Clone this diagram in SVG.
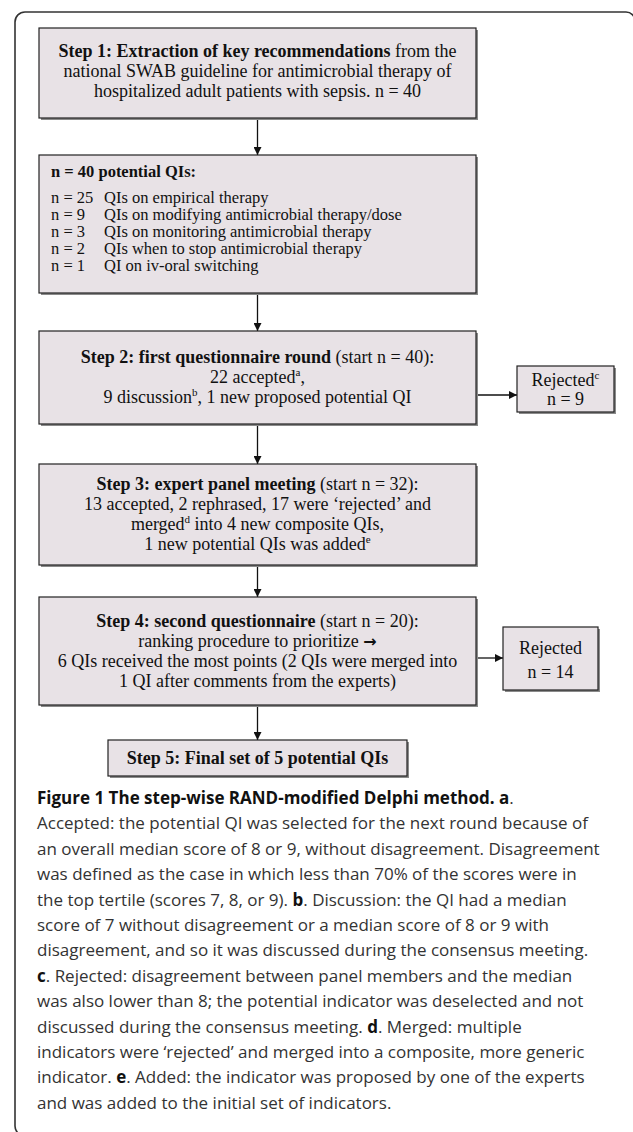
<svg xmlns="http://www.w3.org/2000/svg" width="633" height="1132" viewBox="0 0 633 1132">
<defs>
<marker id="ah" viewBox="0 0 10 10" refX="10" refY="5" markerWidth="8" markerHeight="8" orient="auto" markerUnits="userSpaceOnUse"><path d="M0,0 L10,5 L0,10 z" fill="#111"/></marker>
</defs>
<style>
.box{fill:#e8e2e6;stroke:#222;stroke-width:1.2}
.sh{fill:#8a8a8a}
.t{font-family:"Liberation Serif","Times New Roman",serif;font-size:18px;fill:#111}
.c{text-anchor:middle}
.l2{font-family:"Liberation Serif","Times New Roman",serif;font-size:16.5px;fill:#111}
.b{font-weight:bold}
.sup{font-size:11px}
.arr{font-family:"DejaVu Sans",sans-serif;font-weight:bold;font-size:16px}
.cap{font-family:"Open Sans","Noto Sans",sans-serif;font-size:17px;fill:#333}
.capb{font-weight:bold;fill:#111}
.con{stroke:#111;stroke-width:1.3;fill:none;marker-end:url(#ah)}
</style>
<rect width="633" height="1132" fill="#fff"/>
<path d="M25,1136 A10,10 0 0 1 15,1126 V22 A10,10 0 0 1 25,12 H626 A9,9 0 0 1 635,21" fill="none" stroke="#333" stroke-width="1.6"/>

<g id="connectors">
<line class="con" x1="257.5" y1="118" x2="257.5" y2="155"/>
<line class="con" x1="257.5" y1="293" x2="257.5" y2="331"/>
<line class="con" x1="257.5" y1="424" x2="257.5" y2="464"/>
<line class="con" x1="257.5" y1="565" x2="257.5" y2="597"/>
<line class="con" x1="257.5" y1="705" x2="257.5" y2="740"/>
<line class="con" x1="476" y1="395" x2="517" y2="395"/>
<line class="con" x1="476" y1="658" x2="503" y2="658"/>
</g>

<g id="step1">
<rect class="sh" x="41" y="30" width="437" height="90"/>
<rect class="box" x="39" y="28" width="437" height="90"/>
<text class="t c" x="257.5" y="57"><tspan class="b">Step 1: Extraction of key recommendations</tspan> from the</text>
<text class="t c" x="257.5" y="77">national SWAB guideline for antimicrobial therapy of</text>
<text class="t c" x="257.5" y="97">hospitalized adult patients with sepsis. n = 40</text>
</g>

<g id="potential">
<rect class="sh" x="41" y="157" width="437" height="138"/>
<rect class="box" x="39" y="155" width="437" height="138"/>
<text class="l2 b" x="51" y="177">n = 40 potential QIs:</text>
<text class="l2" x="51" y="203">n = 25</text><text class="l2" x="104" y="203">QIs on empirical therapy</text>
<text class="l2" x="51" y="220">n = 9</text><text class="l2" x="104" y="220">QIs on modifying antimicrobial therapy/dose</text>
<text class="l2" x="51" y="237">n = 3</text><text class="l2" x="104" y="237">QIs on monitoring antimicrobial therapy</text>
<text class="l2" x="51" y="254">n = 2</text><text class="l2" x="104" y="254">QIs when to stop antimicrobial therapy</text>
<text class="l2" x="51" y="271">n = 1</text><text class="l2" x="104" y="271">QI on iv-oral switching</text>
</g>

<g id="step2">
<rect class="sh" x="41" y="333" width="437" height="93"/>
<rect class="box" x="39" y="331" width="437" height="93"/>
<text class="t c" x="257.5" y="363"><tspan class="b">Step 2: first questionnaire round</tspan> (start n = 40):</text>
<text class="t c" x="257.5" y="383">22 accepted<tspan class="sup" dy="-7">a</tspan><tspan dy="7">,</tspan></text>
<text class="t c" x="257.5" y="403">9 discussion<tspan class="sup" dy="-7">b</tspan><tspan dy="7">, 1 new proposed potential QI</tspan></text>
</g>

<g id="rejected1">
<rect class="sh" x="519" y="368" width="97" height="46"/>
<rect class="box" x="517" y="366" width="97" height="46"/>
<text class="t c" x="565.5" y="386">Rejected<tspan class="sup" dy="-7">c</tspan></text>
<text class="t c" x="565.5" y="405">n = 9</text>
</g>

<g id="step3">
<rect class="sh" x="41" y="466" width="437" height="101"/>
<rect class="box" x="39" y="464" width="437" height="101"/>
<text class="t c" x="257.5" y="490"><tspan class="b">Step 3: expert panel meeting</tspan> (start n = 32):</text>
<text class="t c" x="257.5" y="510">13 accepted, 2 rephrased, 17 were ‘rejected’ and</text>
<text class="t c" x="257.5" y="530">merged<tspan class="sup" dy="-7">d</tspan><tspan dy="7">  into 4 new composite QIs,</tspan></text>
<text class="t c" x="257.5" y="550">1 new potential QIs was added<tspan class="sup" dy="-7">e</tspan></text>
</g>

<g id="step4">
<rect class="sh" x="41" y="599" width="437" height="108"/>
<rect class="box" x="39" y="597" width="437" height="108"/>
<text class="t c" x="257.5" y="627"><tspan class="b">Step 4: second questionnaire</tspan> (start n = 20):</text>
<text class="t c" x="257.5" y="647">ranking procedure to prioritize <tspan class="arr">→</tspan></text>
<text class="t c" x="257.5" y="667">6 QIs received the most points (2 QIs were merged into</text>
<text class="t c" x="257.5" y="687">1 QI after comments from the experts)</text>
</g>

<g id="rejected2">
<rect class="sh" x="505" y="629" width="95" height="63"/>
<rect class="box" x="503" y="627" width="95" height="63"/>
<text class="t c" x="550.5" y="654">Rejected</text>
<text class="t c" x="550.5" y="678">n = 14</text>
</g>

<g id="step5">
<rect class="sh" x="110" y="742" width="299" height="36"/>
<rect class="box" x="108" y="740" width="299" height="36"/>
<text class="t c b" x="257.5" y="764">Step 5: Final set of 5 potential QIs</text>
</g>

<g id="caption">
<text class="cap" x="37" y="804"><tspan class="capb">Figure 1 The step-wise RAND-modified Delphi method. a</tspan>.</text>
<text class="cap" x="37" y="829.4">Accepted: the potential QI was selected for the next round because of</text>
<text class="cap" x="37" y="854.8">an overall median score of 8 or 9, without disagreement. Disagreement</text>
<text class="cap" x="37" y="880.2">was defined as the case in which less than 70% of the scores were in</text>
<text class="cap" x="37" y="905.6">the top tertile (scores 7, 8, or 9). <tspan class="capb">b</tspan>. Discussion: the QI had a median</text>
<text class="cap" x="37" y="931">score of 7 without disagreement or a median score of 8 or 9 with</text>
<text class="cap" x="37" y="956.4">disagreement, and so it was discussed during the consensus meeting.</text>
<text class="cap" x="37" y="981.8"><tspan class="capb">c</tspan>. Rejected: disagreement between panel members and the median</text>
<text class="cap" x="37" y="1007.2">was also lower than 8; the potential indicator was deselected and not</text>
<text class="cap" x="37" y="1032.6">discussed during the consensus meeting. <tspan class="capb">d</tspan>. Merged: multiple</text>
<text class="cap" x="37" y="1058">indicators were ‘rejected’ and merged into a composite, more generic</text>
<text class="cap" x="37" y="1083.4">indicator. <tspan class="capb">e</tspan>. Added: the indicator was proposed by one of the experts</text>
<text class="cap" x="37" y="1108.8">and was added to the initial set of indicators.</text>
</g>
</svg>
